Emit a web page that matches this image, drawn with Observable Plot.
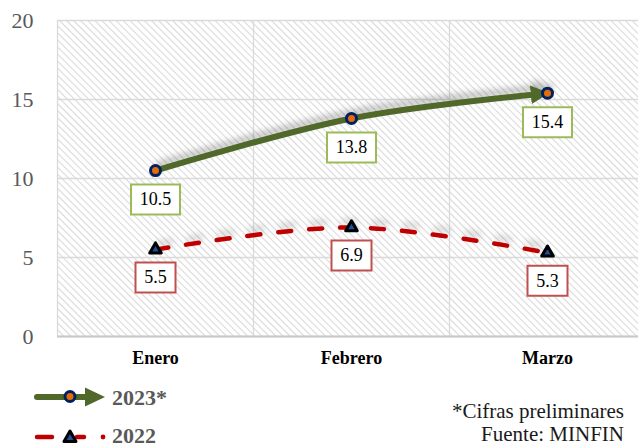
<!DOCTYPE html>
<html><head><meta charset="utf-8">
<script src="https://cdn.jsdelivr.net/npm/d3@7"></script>
<script src="https://cdn.jsdelivr.net/npm/@observablehq/plot@0.6"></script>
<style>
body{margin:0;background:#fff;overflow:hidden}
#wrap{position:relative;width:638px;height:447px;overflow:hidden;font-family:'Liberation Serif',serif;background:#fff}
#chart{position:absolute;left:0;top:0}
#chart svg text{font-family:'Liberation Serif',serif}
#caption{position:absolute;right:14px;top:400px;font-size:21px;line-height:23px;text-align:right;color:#1a1a1a;font-family:'Liberation Serif',serif}
#legend{position:absolute;left:0;top:372px}
</style></head><body>
<svg width="0" height="0" style="position:absolute">
<defs>
<pattern id="hatch" patternUnits="userSpaceOnUse" width="5" height="5" patternTransform="rotate(-45)">
<rect width="5" height="5" fill="#fff"/>
<line x1="2.5" y1="0" x2="2.5" y2="5" stroke="#d9d9d9" stroke-width="1.1"/>
</pattern>
<marker id="arrowG" viewBox="0 0 10 10" refX="9" refY="5" markerWidth="3.1" markerHeight="3.1" orient="auto" markerUnits="strokeWidth">
<path d="M0,0 L10,5 L0,10 z" fill="#50692A"/>
</marker>
</defs></svg>
<div id="wrap">
<div id="chart"></div>
<svg id="legend" width="240" height="75" style="font-family:'Liberation Serif',serif">
 <line x1="37" y1="25" x2="88" y2="25" stroke="#50692A" stroke-width="6" stroke-linecap="round"/>
 <path d="M85,15.5 L105,25 L85,34.5 Z" fill="#50692A"/>
 <circle cx="70" cy="24.5" r="5" fill="#E36C09" stroke="#002060" stroke-width="3"/>
 <text x="112" y="25" dominant-baseline="central" font-size="22" font-weight="bold" fill="#595959">2023*</text>
 <line x1="37" y1="65" x2="52" y2="65" stroke="#C00000" stroke-width="4.5" stroke-linecap="round"/>
 <line x1="77" y1="65" x2="84" y2="65" stroke="#C00000" stroke-width="4.5" stroke-linecap="round"/>
 <circle cx="103" cy="65" r="2.4" fill="#C00000"/>
 <path d="M70,59 L76,69.5 L64,69.5 Z" fill="#1F4E9A" stroke="#000" stroke-width="3" stroke-linejoin="round"/>
 <text x="112" y="63" dominant-baseline="central" font-size="22" font-weight="bold" fill="#595959">2022</text>
</svg>
<div id="caption">*Cifras preliminares<br>Fuente: MINFIN</div>
</div>
<script>
const months = ["Enero", "Febrero", "Marzo"];
const values2023 = [10.5, 13.8, 15.4];
const values2022 = [5.5, 6.9, 5.3];
const yTicks = [0, 5, 10, 15, 20];
const columnBounds = [0, 1, 2, 3];

const d23 = months.map((m, i) => ({pos: i + 0.5, month: m, value: values2023[i]}));
const d22 = months.map((m, i) => ({pos: i + 0.5, month: m, value: values2022[i]}));

const box = (w, h) => ({
  draw(ctx) {
    ctx.moveTo(-w / 2, -h / 2);
    ctx.lineTo(w / 2, -h / 2);
    ctx.lineTo(w / 2, h / 2);
    ctx.lineTo(-w / 2, h / 2);
    ctx.closePath();
  }
});

const serif = "Liberation Serif, serif";

const svg = Plot.plot({
  width: 638, height: 372,
  marginLeft: 57, marginRight: 0, marginTop: 20, marginBottom: 36,
  x: {domain: [0, 3], range: [57, 645]},
  y: {domain: [0, 20]},
  style: {fontFamily: serif, background: "transparent", overflow: "hidden"},
  marks: [
    Plot.frame({fill: "url(#hatch)", stroke: "none"}),
    Plot.ruleY(yTicks, {stroke: "#dadada", strokeWidth: 1.3}),
    Plot.ruleX(columnBounds, {stroke: "#dadada", strokeWidth: 1.3}),
    Plot.ruleY([0], {stroke: "#c8c8c8", strokeWidth: 2}),
    Plot.axisY({ticks: yTicks, tickSize: 0, tickPadding: 24, fontSize: 22, fontFamily: serif, fill: "#595959", label: null}),
    Plot.axisX({ticks: [0.5, 1.5, 2.5], tickFormat: d => months[Math.round(d - 0.5)], tickSize: 0, tickPadding: 15, fontSize: 18, fontFamily: serif, fontWeight: "bold", fill: "#000", label: null}),
    Plot.line(d22, {x: "pos", y: "value", curve: "catmull-rom", stroke: "#C00000", strokeWidth: 4.5, strokeDasharray: "13,18", strokeLinecap: "round", className: "l22"}),
    Plot.line(d23, {x: "pos", y: "value", curve: "catmull-rom", stroke: "#50692A", strokeWidth: 6, className: "l23"}),
    Plot.dot(d23, {x: "pos", y: "value", r: 5, fill: "#E36C09", stroke: "#002060", strokeWidth: 3}),
    Plot.dot(d22, {x: "pos", y: "value", symbol: "triangle", r: 4.3, fill: "#1F4E9A", stroke: "#000", strokeWidth: 3, strokeLinejoin: "round"}),
    Plot.dot(d23, {x: "pos", y: "value", symbol: box(49, 30), r: 1, fill: "#fff", stroke: "#9BBB59", strokeWidth: 2, dy: 29}),
    Plot.text(d23, {x: "pos", y: "value", text: d => d.value.toFixed(1), dy: 29, fontSize: 18, fontFamily: serif, fill: "#000"}),
    Plot.dot(d22, {x: "pos", y: "value", symbol: box(40, 30), r: 1, fill: "#fff", stroke: "#C0504D", strokeWidth: 2, dy: 28}),
    Plot.text(d22, {x: "pos", y: "value", text: d => d.value.toFixed(1), dy: 28, fontSize: 18, fontFamily: serif, fill: "#000"})
  ]
});

const g23 = svg.querySelector("g.l23") || svg.querySelector('g[stroke="#50692A"]');
const g22 = svg.querySelector("g.l22") || svg.querySelector('g[stroke="#C00000"]');
if (g23) {
  const p = g23.querySelector("path");
  if (p) p.setAttribute("marker-end", "url(#arrowG)");
  g23.style.filter = "drop-shadow(3px -6px 3px rgba(0,0,0,0.25))";
}
if (g22) g22.style.filter = "drop-shadow(3px -6px 3px rgba(0,0,0,0.2))";
document.getElementById("chart").appendChild(svg);
</script>
</body></html>
